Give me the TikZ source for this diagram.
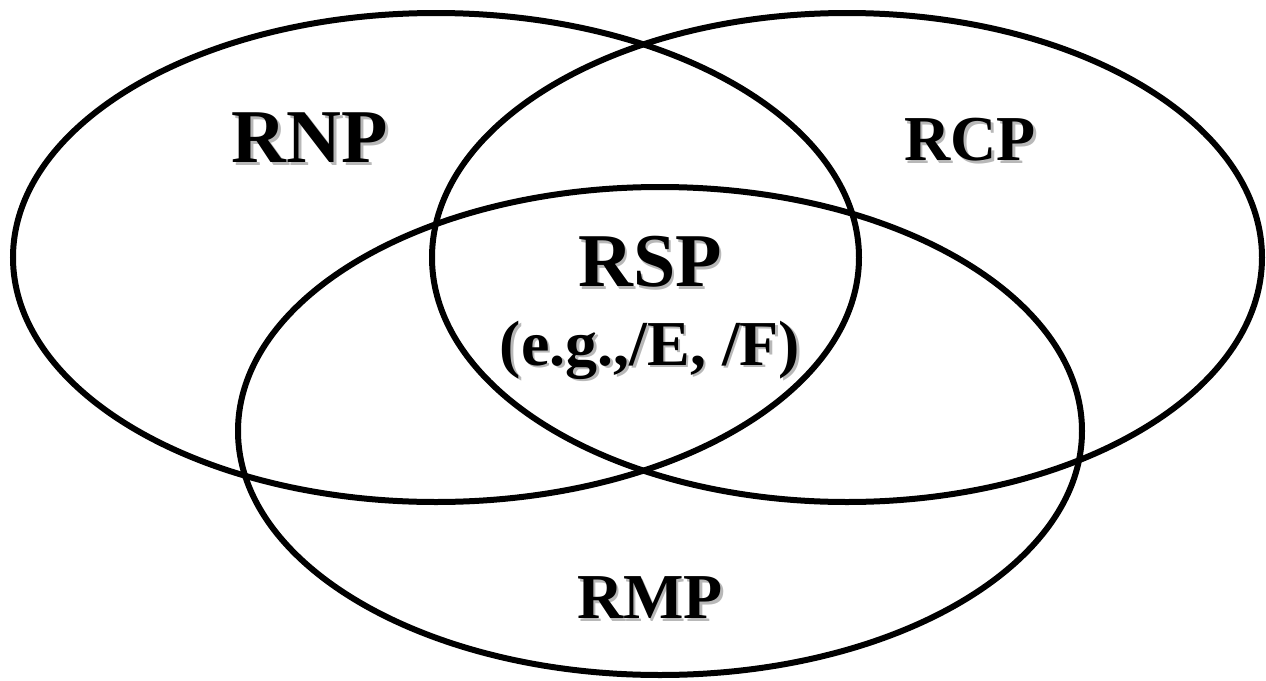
\documentclass[tikz,border=0pt]{standalone}
\usepackage{fontspec}
\setmainfont{Liberation Serif}

\tikzset{
  ring/.style={line width=3pt},
  biglbl/.style={inner sep=0pt, font=\bfseries\fontsize{38}{40}\selectfont},
  smalllbl/.style={inner sep=0pt, font=\bfseries\fontsize{32}{34}\selectfont},
  shade/.style={text=black!28, xshift=1.3pt, yshift=-1.3pt}
}

\begin{document}
\begin{tikzpicture}[x=0.5pt,y=0.5pt,yscale=-1,xscale=1]
\useasboundingbox (0,0) rectangle (1266,681);

%Shape: Ellipse RNP
\draw [ring] (436,257.5) ellipse (423 and 244.5);
%Shape: Ellipse RCP
\draw [ring] (847,257.5) ellipse (415 and 244.5);
%Shape: Ellipse RMP
\draw [ring] (660,431) ellipse (422 and 244);

%shadows first, then the text on top
\node [biglbl,shade] at (310,138) {RNP};
\node [biglbl] (rnp) at (310,138) {RNP};
\node [smalllbl,shade] at (970,140) {RCP};
\node [smalllbl] (rcp) at (970,140) {RCP};
\node [biglbl,shade] at (650,262) {RSP};
\node [biglbl] (rsp) at (650,262) {RSP};
\node [smalllbl,shade] at (650,350) {(e.g.,/E, /F)};
\node [smalllbl] (rspex) at (650,350) {(e.g.,/E, /F)};
\node [smalllbl,shade] at (650,598) {RMP};
\node [smalllbl] (rmp) at (650,598) {RMP};
\end{tikzpicture}
\end{document}
